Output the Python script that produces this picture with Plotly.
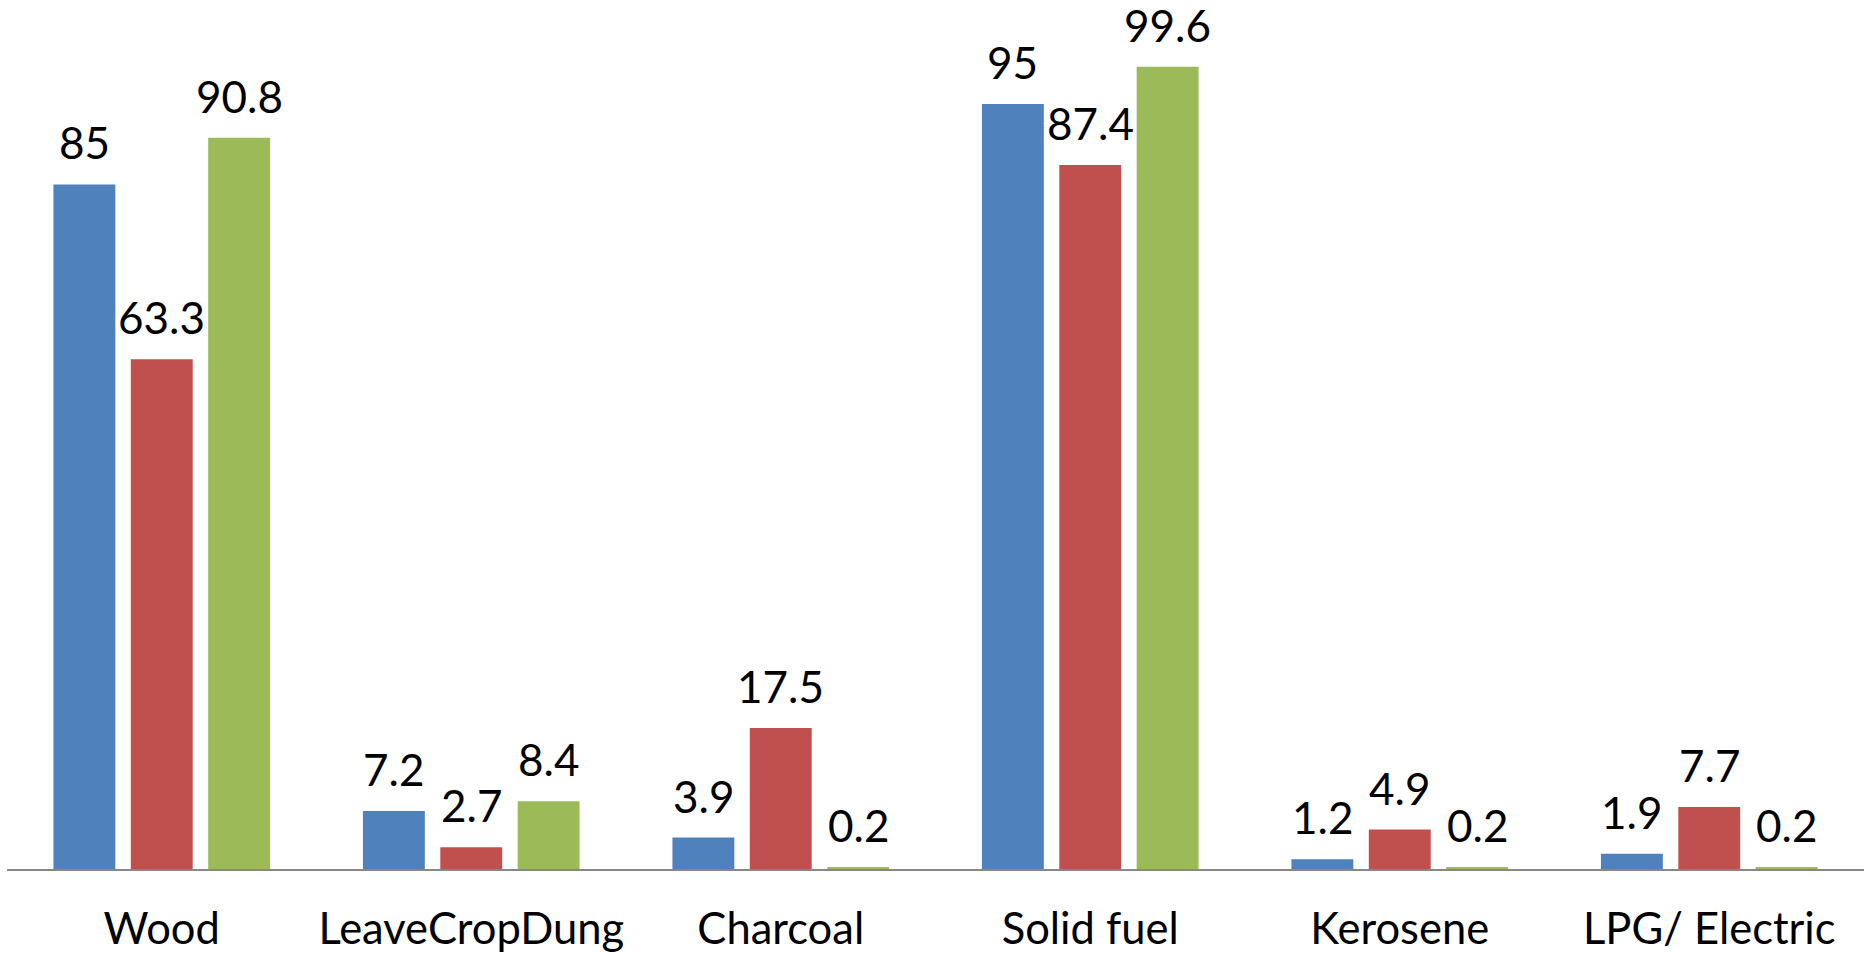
import plotly.graph_objects as go

# Household cooking fuel use (%), three groups per fuel type
categories = ["Wood", "LeaveCropDung", "Charcoal", "Solid fuel", "Kerosene", "LPG/ Electric"]
series_names = ["Series 1", "Series 2", "Series 3"]
series_1 = [85, 7.2, 3.9, 95, 1.2, 1.9]
series_2 = [63.3, 2.7, 17.5, 87.4, 4.9, 7.7]
series_3 = [90.8, 8.4, 0.2, 99.6, 0.2, 0.2]
series_values = [series_1, series_2, series_3]
colors = ["#4F81BD", "#C0504D", "#9BBB59"]

FONT = "Lato"
W, H = 1864, 953
margin = dict(l=7, r=0, t=0, b=84)

fig = go.Figure()
for name, vals, col in zip(series_names, series_values, colors):
    fig.add_trace(go.Bar(
        x=categories, y=vals, name=name,
        marker=dict(color=col, line=dict(width=0)),
        hoverinfo="x+y",
    ))

# value labels centred over each bar of a group
bargap, bargroupgap = 0.25, 0.2
cat_w = (W - margin["l"] - margin["r"]) / len(categories)
slot = cat_w * (1 - bargap) / len(series_values)
for i, vals in enumerate(series_values):
    shift = (i - (len(series_values) - 1) / 2) * slot
    for c, v in zip(categories, vals):
        fig.add_annotation(
            x=c, y=v, text=f"{v:g}", showarrow=False,
            xanchor="center", yanchor="bottom",
            height=44, valign="bottom",
            xshift=shift, yshift=14,
            font=dict(family=FONT, size=44, color="#000000"),
        )

fig.update_layout(
    width=W, height=H,
    margin=margin,
    paper_bgcolor="white", plot_bgcolor="white",
    barmode="group", bargap=bargap, bargroupgap=bargroupgap,
    showlegend=False,
    font=dict(family=FONT, size=44, color="#000000"),
)
fig.update_xaxes(
    showline=True, linecolor="#878787", linewidth=2,
    ticks="", showgrid=False, zeroline=False,
    tickfont=dict(family=FONT, size=43.5, color="#000000"),
    ticklabelstandoff=21,
)
fig.update_yaxes(
    range=[0, 107.9], visible=False, showgrid=False, zeroline=False,
)

fig.write_html("out.html")
